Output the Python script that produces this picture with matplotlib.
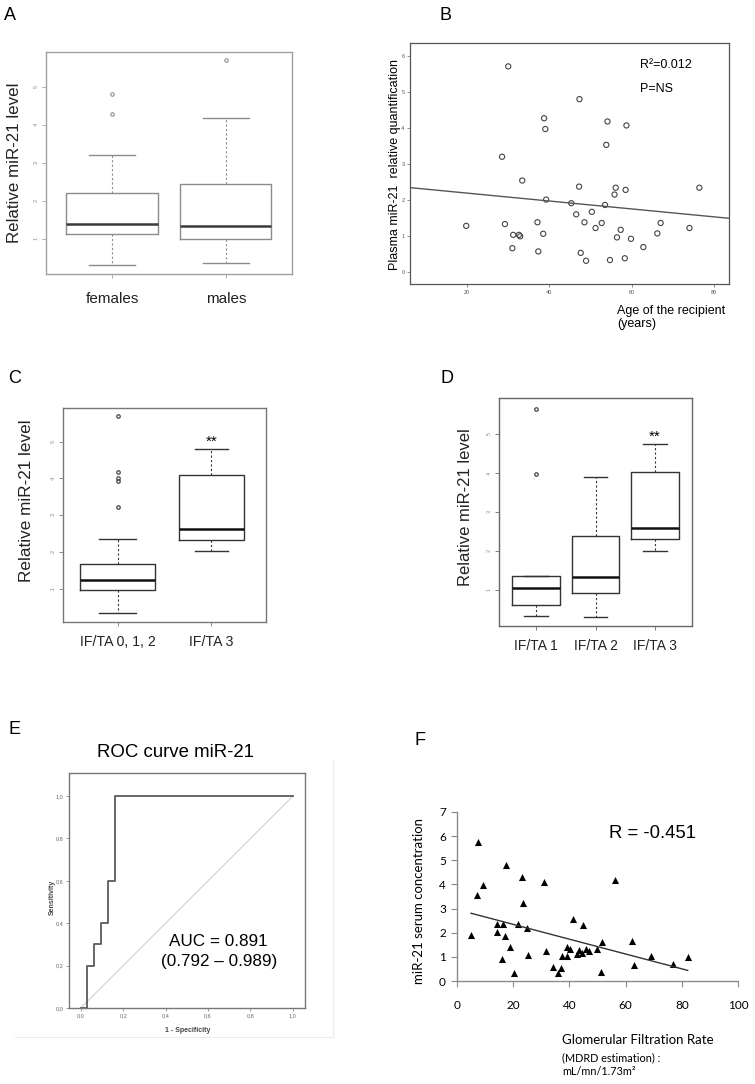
import numpy as np
import matplotlib.pyplot as plt
from matplotlib.lines import Line2D
from matplotlib.ticker import FuncFormatter

plt.rcParams['font.family'] = ['Liberation Sans', 'DejaVu Sans']

# ---- data ----
# A: miR-21 by sex (box summaries)
sex_groups = ["females", "males"]
sex_med = [1.39, 1.33]
sex_q1 = [1.12, 1.01]
sex_q3 = [2.22, 2.46]
sex_lo = [0.31, 0.37]
sex_hi = [3.21, 4.20]
sex_fliers = [[4.81, 4.30], [5.72]]

# B: miR-21 vs recipient age
age = [30.0, 47.3, 38.7, 39.0, 54.1, 58.7, 53.8, 28.5, 33.4, 47.2, 56.1, 76.4,
       55.8, 58.5, 39.2, 45.3, 53.5, 46.5, 50.3, 19.8, 29.2, 37.1, 48.5, 52.7,
       67.0, 74.0, 51.2, 31.2, 32.6, 32.9, 38.5, 57.3, 66.2, 56.4, 59.8, 31.0,
       37.3, 62.8, 47.6, 48.9, 54.7, 58.3]
age_mir = [5.72, 4.81, 4.28, 3.98, 4.19, 4.08, 3.54, 3.21, 2.55, 2.38, 2.35, 2.35,
           2.16, 2.29, 2.02, 1.92, 1.87, 1.61, 1.68, 1.29, 1.34, 1.39, 1.39, 1.37,
           1.37, 1.23, 1.23, 1.04, 1.04, 1.00, 1.07, 1.18, 1.08, 0.97, 0.93, 0.67,
           0.58, 0.70, 0.54, 0.32, 0.34, 0.39]
age_fit = (-0.011, 2.42)  # slope, intercept

# C: IF/TA 0-2 vs 3
c_groups = ["IF/TA 0, 1, 2", "IF/TA 3"]
c_med = [1.24, 2.62]
c_q1 = [0.98, 2.34]
c_q3 = [1.69, 4.08]
c_lo = [0.34, 2.02]
c_hi = [2.36, 4.80]
c_fliers = [[5.70, 4.18, 4.00, 3.94, 3.22], []]
c_widths = [0.8, 0.7]

# D: IF/TA 1, 2, 3
d_groups = ["IF/TA 1", "IF/TA 2", "IF/TA 3"]
d_med = [1.06, 1.33, 2.59]
d_q1 = [0.63, 0.94, 2.32]
d_q3 = [1.36, 2.39, 4.04]
d_lo = [0.34, 0.32, 2.01]
d_hi = [1.37, 3.90, 4.75]
d_fliers = [[5.65, 3.97], [], []]

# E: ROC curve
roc_fpr = [0.0, 0.03, 0.03, 0.065, 0.065, 0.097, 0.097, 0.127, 0.127, 0.16, 0.16, 1.0]
roc_tpr = [0.0, 0.0, 0.2, 0.2, 0.3, 0.3, 0.4, 0.4, 0.6, 0.6, 1.0, 1.0]

# F: miR-21 vs GFR
gfr = [7.5, 17.4, 23.2, 9.1, 30.8, 56.3, 7.2, 23.4, 41.2, 44.9, 14.3, 16.2, 21.8,
       24.9, 5.0, 14.3, 17.0, 18.7, 25.3, 31.8, 15.9, 20.2, 34.3, 36.1, 36.9,
       37.3, 39.1, 39.1, 40.2, 42.6, 43.5, 44.6, 45.9, 46.9, 49.8, 51.5, 51.2,
       62.1, 63.1, 68.9, 77.0, 82.1]
gfr_mir = [5.74, 4.81, 4.30, 3.98, 4.09, 4.20, 3.55, 3.22, 2.56, 2.30, 2.38, 2.38,
           2.38, 2.19, 1.92, 2.02, 1.88, 1.41, 1.09, 1.24, 0.93, 0.35, 0.58, 0.33,
           0.54, 1.05, 1.02, 1.42, 1.34, 1.11, 1.29, 1.16, 1.34, 1.24, 1.34, 1.62,
           0.39, 1.67, 0.68, 1.05, 0.71, 0.98]
gfr_fit = (-0.0307, 2.96)

W, H = 755, 1084
fig = plt.figure(figsize=(W / 100, H / 100), dpi=100)


def add_ax(x0, y0, x1, y1):
    return fig.add_axes([x0 / W, 1 - y1 / H, (x1 - x0) / W, (y1 - y0) / H])


def ftext(x, y, s, **kw):
    return fig.text(x / W, 1 - y / H, s, **kw)


def box_stats(med, q1, q3, lo, hi, fliers):
    return [dict(med=m, q1=a, q3=b, whislo=c, whishi=d, fliers=f)
            for m, a, b, c, d, f in zip(med, q1, q3, lo, hi, fliers)]


def r_boxplot(ax, stats, widths, line, med_color, frame, flier):
    n = len(stats)
    ax.bxp(stats, positions=range(1, n + 1), widths=widths,
           capwidths=[w / 2 for w in widths],
           boxprops=dict(color=line, lw=1.0),
           medianprops=dict(color=med_color, lw=1.8),
           whiskerprops=dict(color=line, lw=0.8, linestyle=(0, (2, 2))),
           capprops=dict(color=line, lw=1.0),
           flierprops=dict(marker='o', markersize=2.5, markerfacecolor='none',
                           markeredgecolor=flier, markeredgewidth=0.9))
    ax.set_xlim(0.5 - 0.04 * n, n + 0.5 + 0.04 * n)
    for s in ax.spines.values():
        s.set_color(frame)
        s.set_linewidth(1.0)
    ax.tick_params(axis='y', direction='out', length=3, width=0.6,
                   color=frame, labelsize=4, labelcolor='#888888',
                   labelrotation=90, pad=2)
    ax.tick_params(axis='x', direction='out', length=3, width=0.6, color=frame)
    ax.set_yticks([1, 2, 3, 4, 5])


# ---------------- A ----------------
axA = add_ax(46, 52, 292, 274)
r_boxplot(axA, box_stats(sex_med, sex_q1, sex_q3, sex_lo, sex_hi, sex_fliers),
          [0.8, 0.8], '#8c8c8c', '#3a3a3a', '#a0a0a0', '#999999')
axA.set_ylim(0.074, 5.93)
axA.set_xticks([1, 2], sex_groups)
axA.tick_params(axis='x', labelsize=11, pad=10, labelcolor='#222222')
axA.set_ylabel("Relative miR-21 level", fontsize=12.2, color='#222222', va='center')
axA.yaxis.set_label_coords((14.5 - 46) / 246, (274 - 163) / 222)
ftext(4, 20, "A", fontsize=13, va='baseline')

# ---------------- B ----------------
axB = add_ax(410, 43, 729, 284)
axB.scatter(age, age_mir, s=14, facecolors='none', edgecolors='#444444', linewidths=0.8)
axB.axline((0, age_fit[1]), slope=age_fit[0], color='#555555', lw=1.0)
axB.set_xlim(6.15, 83.6)
axB.set_ylim(-0.325, 6.37)
axB.set_xticks([20, 40, 60, 80])
axB.set_yticks([0, 1, 2, 3, 4, 5, 6])
axB.tick_params(direction='out', length=2, width=0.5, color='#666666',
                labelsize=4, labelcolor='#555555', pad=2)
for s in axB.spines.values():
    s.set_color('#555555')
    s.set_linewidth(0.9)
axB.text(0.72, 0.91, "R\u00b2=0.012", transform=axB.transAxes, fontsize=9, va='center')
axB.text(0.72, 0.81, "P=NS", transform=axB.transAxes, fontsize=9, va='center')
axB.set_ylabel("Plasma miR-21  relative quantification", fontsize=9, va='center')
axB.yaxis.set_label_coords((395 - 410) / 319, (284 - 164) / 241)
ftext(617, 305, "Age of the recipient\n(years)", fontsize=9, ha='left', va='top',
      linespacing=1.15)
ftext(439, 20, "B", fontsize=13, va='baseline')

# ---------------- C ----------------
axC = add_ax(63, 408, 266, 622)
r_boxplot(axC, box_stats(c_med, c_q1, c_q3, c_lo, c_hi, c_fliers),
          c_widths, '#333333', '#111111', '#777777', '#444444')
axC.set_ylim(0.108, 5.91)
axC.set_xticks([1, 2], c_groups)
axC.tick_params(axis='x', labelsize=10.2, pad=6, labelcolor='#222222')
axC.text(2, 4.99, "**", ha='center', va='center', fontsize=11)
axC.set_ylabel("Relative miR-21 level", fontsize=12.3, color='#222222', va='center')
axC.yaxis.set_label_coords((27 - 63) / 203, (622 - 501) / 214)
ftext(8, 383, "C", fontsize=13, va='baseline')

# ---------------- D ----------------
axD = add_ax(499, 398, 692, 626)
r_boxplot(axD, box_stats(d_med, d_q1, d_q3, d_lo, d_hi, d_fliers),
          [0.8, 0.8, 0.8], '#333333', '#111111', '#666666', '#444444')
axD.set_ylim(0.085, 5.93)
axD.set_xticks([1, 2, 3], d_groups)
axD.tick_params(axis='x', labelsize=10, pad=6, labelcolor='#222222')
axD.text(3, 4.94, "**", ha='center', va='center', fontsize=11)
axD.set_ylabel("Relative miR-21 level", fontsize=12, color='#222222', va='center')
axD.yaxis.set_label_coords((465 - 499) / 193, (626 - 507) / 228)
ftext(441, 383, "D", fontsize=13, va='baseline')

# ---------------- E ----------------
axE = add_ax(69, 773, 305, 1008)
axE.plot([0, 1], [0, 1], color='#cfcfcf', lw=0.8)
axE.plot(roc_fpr, roc_tpr, color='#5a5a5a', lw=1.3)
axE.set_xlim(-0.055, 1.057)
axE.set_ylim(0, 1.109)
ticksE = [0.0, 0.2, 0.4, 0.6, 0.8, 1.0]
axE.set_xticks(ticksE)
axE.set_yticks(ticksE)
comma = FuncFormatter(lambda v, _: f"{v:.1f}".replace('.', ','))
axE.xaxis.set_major_formatter(comma)
axE.yaxis.set_major_formatter(comma)
axE.tick_params(direction='out', length=2, width=0.5, color='#777777',
                labelsize=4, labelcolor='#666666', pad=2)
for s in axE.spines.values():
    s.set_color('#777777')
    s.set_linewidth(1.0)
axE.set_xlabel("1 - Specificity", fontsize=5, fontweight='bold', color='#444444')
axE.xaxis.set_label_coords((188 - 69) / 236, -(1027 - 1008) / 235)
axE.set_ylabel("Sensitivity", fontsize=5, fontweight='bold', color='#444444', va='center')
axE.yaxis.set_label_coords((52 - 69) / 236, (1008 - 897) / 235)
ftext(175, 757, "ROC curve miR-21", fontsize=13.4, ha='center', va='baseline')
ftext(218, 946, "AUC = 0.891", fontsize=12.3, ha='center', va='baseline')
ftext(219, 966, "(0.792 \u2013 0.989)", fontsize=12.3, ha='center', va='baseline')
fig.add_artist(Line2D([333 / W, 333 / W], [1 - 760 / H, 1 - 1037 / H],
                      color='#ececec', lw=0.8))
fig.add_artist(Line2D([15 / W, 333 / W], [1 - 1037 / H, 1 - 1037 / H],
                      color='#ececec', lw=0.8))
ftext(8, 734, "E", fontsize=13, va='baseline')

# ---------------- F ----------------
axF = add_ax(457, 812, 738, 981)
axF.scatter(gfr, gfr_mir, marker='^', s=26, color='black', linewidths=0)
xf = np.array([min(gfr), max(gfr)])
axF.plot(xf, gfr_fit[0] * xf + gfr_fit[1], color='#333333', lw=1.0)
axF.set_xlim(0, 100)
axF.set_ylim(0, 7)
axF.set_xticks(range(0, 101, 20))
axF.set_yticks(range(0, 8))
for side in ['top', 'right']:
    axF.spines[side].set_visible(False)
for side in ['left', 'bottom']:
    axF.spines[side].set_color('#8a8a8a')
    axF.spines[side].set_linewidth(1.0)
axF.tick_params(direction='out', length=4, width=0.8, color='#8a8a8a')
axF.tick_params(axis='y', labelsize=8.5, pad=4)
axF.tick_params(axis='x', labelsize=8.5, pad=10)
for lab in axF.get_xticklabels() + axF.get_yticklabels():
    lab.set_family(['Lato', 'DejaVu Sans'])
axF.text(0.54, 0.87, "R = -0.451", transform=axF.transAxes, fontsize=13.3, va='center')
axF.set_ylabel("miR-21 serum concentration", fontsize=9.5, family=['Lato', 'DejaVu Sans'],
               va='center')
axF.yaxis.set_label_coords((419 - 457) / 281, (981 - 901) / 169)
ftext(562, 1044, "Glomerular Filtration Rate", fontsize=9.5, ha='left', va='baseline',
      family=['Lato', 'DejaVu Sans'])
ftext(562, 1061.5, "(MDRD estimation) :", fontsize=7.8, ha='left', va='baseline',
      family=['Lato', 'DejaVu Sans'])
ftext(562, 1075, "mL/mn/1.73m\u00b2", fontsize=7.8, ha='left', va='baseline',
      family=['Lato', 'DejaVu Sans'])
ftext(415, 745, "F", fontsize=13, va='baseline')

fig.savefig("out.png", dpi=100)
